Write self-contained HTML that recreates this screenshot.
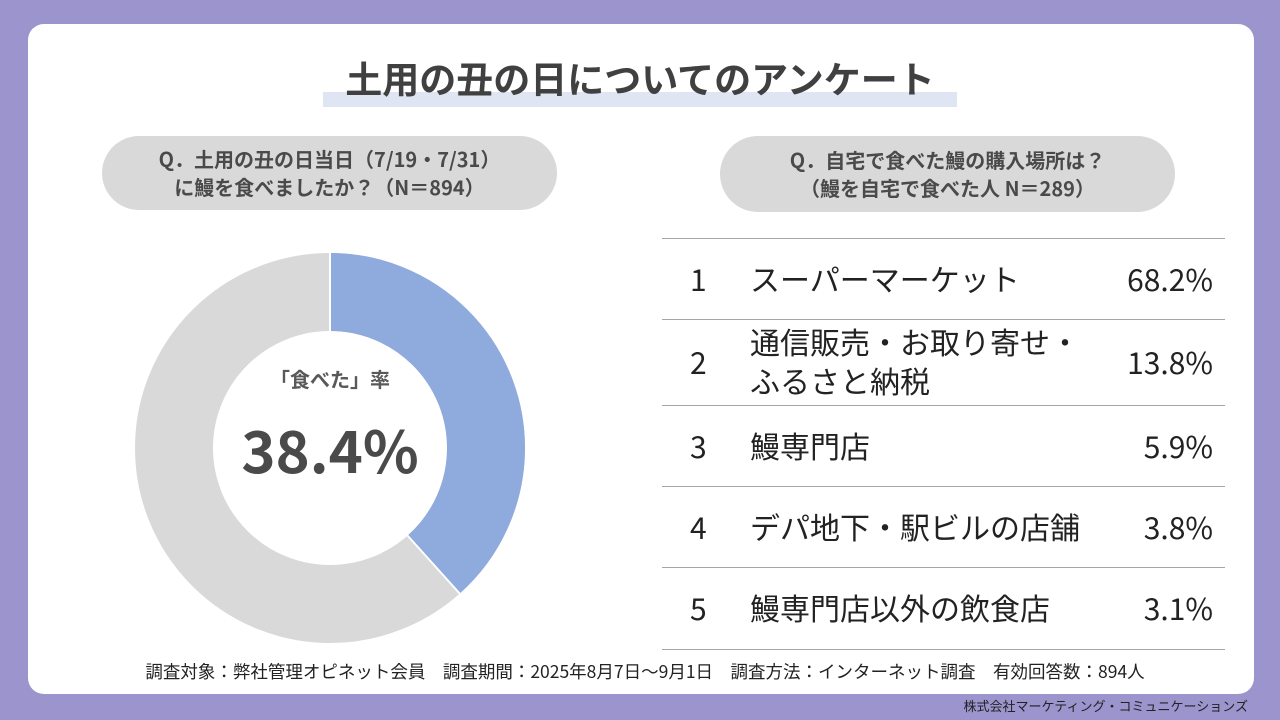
<!DOCTYPE html>
<html><head><meta charset="utf-8"><style>
body{margin:0;width:1280px;height:720px;background:#9c94cc;position:relative;overflow:hidden;font-family:"Noto Sans CJK JP","Liberation Sans",sans-serif;color:#404040}
.card{position:absolute;left:28px;top:24px;width:1226px;height:670px;background:#fff;border-radius:16px}
.abs{position:absolute}
.pill{position:absolute;background:#d9d9d9;border-radius:38px;text-align:center;font-weight:bold;font-size:20px;line-height:28px;color:#4a4a4a}
.row{position:absolute;left:662px;width:563px;border-top:1.5px solid #a6a6a6;font-size:30px;color:#222;line-height:40px}
.row span{position:absolute}
</style></head><body>
<div class="card"></div>
<div class="abs" style="left:323px;top:92px;width:634px;height:15px;background:#dfe5f3"></div>
<div class="abs" style="left:0;width:1280px;top:51px;text-align:center;font-size:37px;font-weight:bold;color:#404040;line-height:52px">土用の丑の日についてのアンケート</div>
<div class="pill" style="left:102px;top:136px;width:455px;height:74px;padding-top:9px;box-sizing:border-box">Q．土用の丑の日当日（7/19・7/31）<br>に鰻を食べましたか？（N＝894）</div>
<div class="pill" style="left:720px;top:136px;width:455px;height:76px;padding-top:10px;box-sizing:border-box">Q．自宅で食べた鰻の購入場所は？<br>（鰻を自宅で食べた人 N＝289）</div>
<svg class="abs" style="left:0;top:0" width="1280" height="720">
<circle cx="330" cy="448" r="156" fill="none" stroke="#d9d9d9" stroke-width="78"/>
<circle cx="330" cy="448" r="156" fill="none" stroke="#8faadc" stroke-width="78" stroke-dasharray="376.4 1000" transform="rotate(-90 330 448)"/>
<line x1="330" y1="252" x2="330" y2="332" stroke="#fff" stroke-width="2"/>
<line x1="407" y1="535" x2="461" y2="595" stroke="#fff" stroke-width="2"/>
</svg>
<div class="abs" style="left:230px;width:200px;top:364px;text-align:center;font-size:20px;font-weight:bold;color:#595959">「食べた」率</div>
<div class="abs" style="left:190px;width:280px;top:408px;text-align:center;font-size:58px;font-weight:bold;color:#4a4a4a;line-height:80px">38.4%</div>
<div class="row" style="top:238px;height:81px"><span style="left:28px;top:19px">1</span><span style="left:88px;top:19px">スーパーマーケット</span><span style="right:12px;top:19px">68.2%</span></div>
<div class="row" style="top:319px;height:86px"><span style="left:28px;top:21px">2</span><span style="left:88px;top:2px;line-height:39px">通信販売・お取り寄せ・<br>ふるさと納税</span><span style="right:12px;top:21px">13.8%</span></div>
<div class="row" style="top:405px;height:81px"><span style="left:28px;top:19px">3</span><span style="left:88px;top:19px">鰻専門店</span><span style="right:12px;top:19px">5.9%</span></div>
<div class="row" style="top:486px;height:81px"><span style="left:28px;top:19px">4</span><span style="left:88px;top:19px">デパ地下・駅ビルの店舗</span><span style="right:12px;top:19px">3.8%</span></div>
<div class="row" style="top:567px;height:81px;border-bottom:1.5px solid #a6a6a6"><span style="left:28px;top:19px">5</span><span style="left:88px;top:19px">鰻専門店以外の飲食店</span><span style="right:12px;top:19px">3.1%</span></div>
<div class="abs" style="left:0;width:1290px;top:660px;text-align:center;font-size:17.5px;color:#222;line-height:24px">調査対象：弊社管理オピネット会員　調査期間：2025年8月7日～9月1日　調査方法：インターネット調査　有効回答数：894人</div>
<div class="abs" style="right:32px;top:696px;font-size:13px;color:#222;line-height:20px">株式会社マーケティング・コミュニケーションズ</div>
</body></html>
